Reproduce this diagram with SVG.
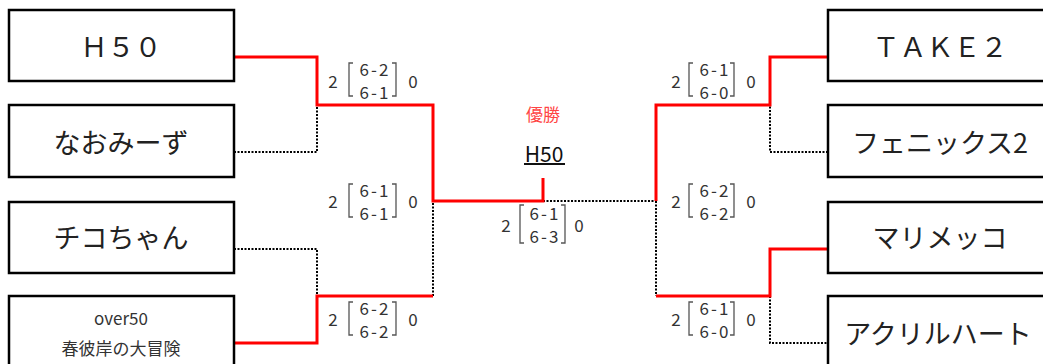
<svg xmlns="http://www.w3.org/2000/svg" width="1043" height="364" viewBox="0 0 1043 364">
<style>
.box{fill:#fff;stroke:#000;stroke-width:2.5}
.name{font-family:"Noto Sans CJK JP","Noto Sans",sans-serif;font-size:27px;fill:#222;text-anchor:middle;dominant-baseline:central}
.small{font-family:"Noto Sans CJK JP","Noto Sans",sans-serif;font-size:17px;fill:#333;text-anchor:middle;dominant-baseline:central}
.sc{font-family:"Noto Sans CJK JP","Noto Sans",sans-serif;font-size:17px;fill:#333;text-anchor:middle;dominant-baseline:central}
.sp{letter-spacing:2px}
.br{fill:none;stroke:#555;stroke-width:1.3}
.win{fill:none;stroke:#f00;stroke-width:3;stroke-linejoin:miter}
.lose{fill:none;stroke:#000;stroke-width:2;stroke-dasharray:2 1.5}
</style>
<g id="connectors">
<path class="lose" d="M234,152 H317 V105"/>
<path class="lose" d="M234,249 H317 V296"/>
<path class="lose" d="M433,296 V201"/>
<path class="lose" d="M543,201 H656"/>
<path class="lose" d="M828,152 H770 V105"/>
<path class="lose" d="M656,201 V296"/>
<path class="lose" d="M770,296 V343 H828"/>
<path class="win" d="M234,57 H317 V105 H433 V201 H543 V178"/>
<path class="win" d="M234,343 H317 V296 H433"/>
<path class="win" d="M828,57 H770 V105 H656 V201"/>
<path class="win" d="M828,249 H770 V296 H656"/>
</g>
<g id="n1"><rect class="box" x="9" y="10" width="225" height="71"/><text class="name" x="121" y="45">Ｈ５０</text></g>
<g id="n2"><rect class="box" x="9" y="105" width="225" height="72"/><text class="name" x="121" y="141">なおみーず</text></g>
<g id="n3"><rect class="box" x="9" y="202" width="225" height="71"/><text class="name" x="121" y="236">チコちゃん</text></g>
<g id="n4"><rect class="box" x="9" y="296" width="225" height="80"/><text class="small" x="121" y="317">over50</text><text class="small" x="121" y="347">春彼岸の大冒険</text></g>
<g id="n5"><rect class="box" x="828" y="10" width="225" height="71"/><text class="name" x="940" y="45">ＴＡＫＥ２</text></g>
<g id="n6"><rect class="box" x="828" y="105" width="225" height="72"/><text class="name" x="940" y="141">フェニックス2</text></g>
<g id="n7"><rect class="box" x="828" y="202" width="225" height="71"/><text class="name" x="940" y="236">マリメッコ</text></g>
<g id="n8"><rect class="box" x="828" y="296" width="225" height="80"/><text class="name" x="938" y="332">アクリルハート</text></g>
<g id="winner">
<text x="543" y="113" style="font-family:'Noto Sans CJK JP',sans-serif;font-size:17px;fill:#f44;text-anchor:middle;dominant-baseline:central">優勝</text>
<text x="544" y="153" style="font-family:'Noto Sans CJK JP','Noto Sans',sans-serif;font-size:21px;fill:#111;text-anchor:middle;dominant-baseline:central">H50</text>
<line x1="524" y1="164" x2="565" y2="164" stroke="#111" stroke-width="2"/>
</g>
<g id="score-l1">
<text class="sc" x="333" y="80">2</text><text class="sc sp" x="375" y="68">6-2</text><text class="sc sp" x="375" y="91">6-1</text><text class="sc" x="413" y="80">0</text>
<path class="br" d="M353,63 H349 V96 H353 M392,63 H396 V96 H392"/>
</g>
<g id="score-l2">
<text class="sc" x="333" y="200">2</text><text class="sc sp" x="375" y="189">6-1</text><text class="sc sp" x="375" y="212">6-1</text><text class="sc" x="413" y="200">0</text>
<path class="br" d="M353,184 H349 V217 H353 M392,184 H396 V217 H392"/>
</g>
<g id="score-l3">
<text class="sc" x="333" y="318">2</text><text class="sc sp" x="375" y="307">6-2</text><text class="sc sp" x="375" y="330">6-2</text><text class="sc" x="413" y="318">0</text>
<path class="br" d="M353,302 H349 V335 H353 M392,302 H396 V335 H392"/>
</g>
<g id="score-c">
<text class="sc" x="506" y="224">2</text><text class="sc sp" x="545" y="212">6-1</text><text class="sc sp" x="545" y="235">6-3</text><text class="sc" x="579" y="224">0</text>
<path class="br" d="M524,205 H520 V243 H524 M561,205 H565 V243 H561"/>
</g>
<g id="score-r1">
<text class="sc" x="676" y="80">2</text><text class="sc sp" x="715" y="68">6-1</text><text class="sc sp" x="715" y="91">6-0</text><text class="sc" x="751" y="80">0</text>
<path class="br" d="M693,63 H689 V96 H693 M730,63 H734 V96 H730"/>
</g>
<g id="score-r2">
<text class="sc" x="676" y="200">2</text><text class="sc sp" x="715" y="189">6-2</text><text class="sc sp" x="715" y="212">6-2</text><text class="sc" x="751" y="200">0</text>
<path class="br" d="M693,184 H689 V217 H693 M730,184 H734 V217 H730"/>
</g>
<g id="score-r3">
<text class="sc" x="676" y="318">2</text><text class="sc sp" x="715" y="307">6-1</text><text class="sc sp" x="715" y="330">6-0</text><text class="sc" x="751" y="318">0</text>
<path class="br" d="M693,302 H689 V335 H693 M730,302 H734 V335 H730"/>
</g>
</svg>
